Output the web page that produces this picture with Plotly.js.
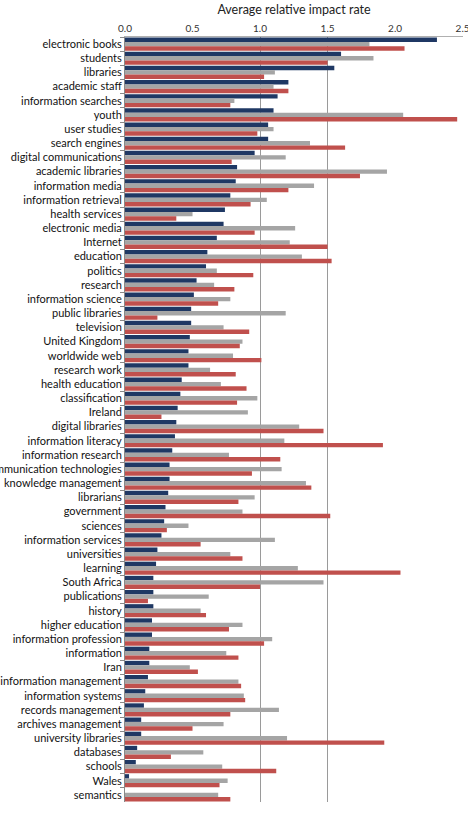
<!DOCTYPE html>
<html>
<head>
<meta charset="utf-8">
<script src="https://cdn.plot.ly/plotly-3.0.1.min.js"></script>
<style>
  html, body { margin: 0; padding: 0; background: #fff; }
  #chart { width: 468px; height: 814px; }
</style>
</head>
<body>
<div id="chart"></div>
<script>
// Keywords, listed top to bottom
const keywords = [
  "electronic books", "students", "libraries", "academic staff", "information searches",
  "youth", "user studies", "search engines", "digital communications", "academic libraries",
  "information media", "information retrieval", "health services", "electronic media", "Internet",
  "education", "politics", "research", "information science", "public libraries",
  "television", "United Kingdom", "worldwide web", "research work", "health education",
  "classification", "Ireland", "digital libraries", "information literacy", "information research",
  "communication technologies", "knowledge management", "librarians", "government", "sciences",
  "information services", "universities", "learning", "South Africa", "publications",
  "history", "higher education", "information profession", "information", "Iran",
  "information management", "information systems", "records management", "archives management", "university libraries",
  "databases", "schools", "Wales", "semantics"
];

// Average relative impact rate, three series per keyword
const seriesBlue = [
  2.31, 1.60, 1.55, 1.21, 1.13,
  1.10, 1.06, 1.06, 0.96, 0.83,
  0.82, 0.78, 0.74, 0.73, 0.68,
  0.61, 0.60, 0.53, 0.51, 0.49,
  0.49, 0.48, 0.47, 0.47, 0.42,
  0.41, 0.39, 0.38, 0.37, 0.35,
  0.33, 0.33, 0.32, 0.30, 0.29,
  0.27, 0.24, 0.23, 0.21, 0.21,
  0.21, 0.20, 0.20, 0.18, 0.18,
  0.17, 0.15, 0.14, 0.12, 0.12,
  0.09, 0.08, 0.03, 0.00
];
const seriesGray = [
  1.81, 1.84, 1.11, 1.10, 0.81,
  2.06, 1.10, 1.37, 1.19, 1.94,
  1.40, 1.05, 0.50, 1.26, 1.22,
  1.31, 0.68, 0.66, 0.78, 1.19,
  0.73, 0.87, 0.80, 0.63, 0.71,
  0.98, 0.91, 1.29, 1.18, 0.77,
  1.16, 1.34, 0.96, 0.87, 0.47,
  1.11, 0.78, 1.28, 1.47, 0.62,
  0.56, 0.87, 1.09, 0.75, 0.48,
  0.84, 0.88, 1.14, 0.73, 1.20,
  0.58, 0.72, 0.76, 0.69
];
const seriesRed = [
  2.07, 1.50, 1.03, 1.21, 0.78,
  2.46, 0.98, 1.63, 0.79, 1.74,
  1.21, 0.93, 0.38, 0.96, 1.50,
  1.53, 0.95, 0.81, 0.69, 0.24,
  0.92, 0.85, 1.01, 0.82, 0.90,
  0.83, 0.27, 1.47, 1.91, 1.15,
  0.94, 1.38, 0.84, 1.52, 0.31,
  0.56, 0.87, 2.04, 1.00, 0.17,
  0.60, 0.77, 1.03, 0.84, 0.54,
  0.86, 0.89, 0.78, 0.50, 1.92,
  0.34, 1.12, 0.70, 0.78
];

// Value axis: labelled ticks and the vertical reference lines
const xTicks = [0, 0.5, 1.0, 1.5, 2.0, 2.5];
const xTickText = ["0.0", "0.5", "1.0", "1.5", "2.0", "2.5"];
const xGridVals = [1.0, 1.5, 2.5];

const colors = ["#1F3864", "#A5A5A5", "#C0504D"];
const seriesList = [seriesBlue, seriesGray, seriesRed];

const traces = seriesList.map((vals, i) => ({
  type: "bar",
  orientation: "h",
  y: keywords,
  x: vals,
  marker: { color: colors[i], line: { width: 0 } },
  hoverinfo: "y+x",
  showlegend: false
}));

const font = "Lato, 'Open Sans', 'DejaVu Sans', sans-serif";
const xRange = [0, 2.503];

const layout = {
  width: 468,
  height: 814,
  margin: { l: 125, r: 5, t: 37, b: 12, pad: 0 },
  paper_bgcolor: "#ffffff",
  plot_bgcolor: "rgba(0,0,0,0)",
  barmode: "group",
  bargap: 0.07,
  bargroupgap: 0,
  font: { family: font, color: "#222", size: 11 },
  xaxis: {
    side: "top",
    range: xRange,
    tickvals: xTicks,
    ticktext: xTickText,
    tickfont: { size: 10, color: "#333" },
    ticklabeloverflow: "allow",
    ticks: "",
    showgrid: false,
    zeroline: false,
    showline: true,
    linecolor: "#b0b0b0",
    linewidth: 1,
    fixedrange: true,
    title: { text: "Average relative impact rate", font: { size: 12.5, color: "#222" }, standoff: 4 }
  },
  // Unlabelled companion axis that carries only the vertical grid lines
  xaxis2: {
    overlaying: "x",
    side: "bottom",
    range: xRange,
    tickvals: xGridVals,
    showticklabels: false,
    ticks: "",
    showgrid: true,
    gridcolor: "#9a9a9a",
    gridwidth: 1,
    zeroline: false,
    showline: false,
    fixedrange: true,
    layer: "below traces"
  },
  yaxis: {
    type: "category",
    autorange: "reversed",
    tickson: "boundaries",
    ticks: "outside",
    ticklen: 4,
    tickcolor: "#888",
    tickfont: { size: 11, color: "#111" },
    showline: true,
    linecolor: "#888",
    linewidth: 1,
    showgrid: false,
    zeroline: false,
    fixedrange: true,
    automargin: false
  }
};

// Grid carrier trace: draws nothing visible, only binds xaxis2
traces.push({
  type: "scatter",
  x: [],
  y: [],
  xaxis: "x2",
  yaxis: "y",
  hoverinfo: "skip",
  showlegend: false
});

Plotly.newPlot("chart", traces, layout, { displayModeBar: false, staticPlot: true });
</script>
</body>
</html>
